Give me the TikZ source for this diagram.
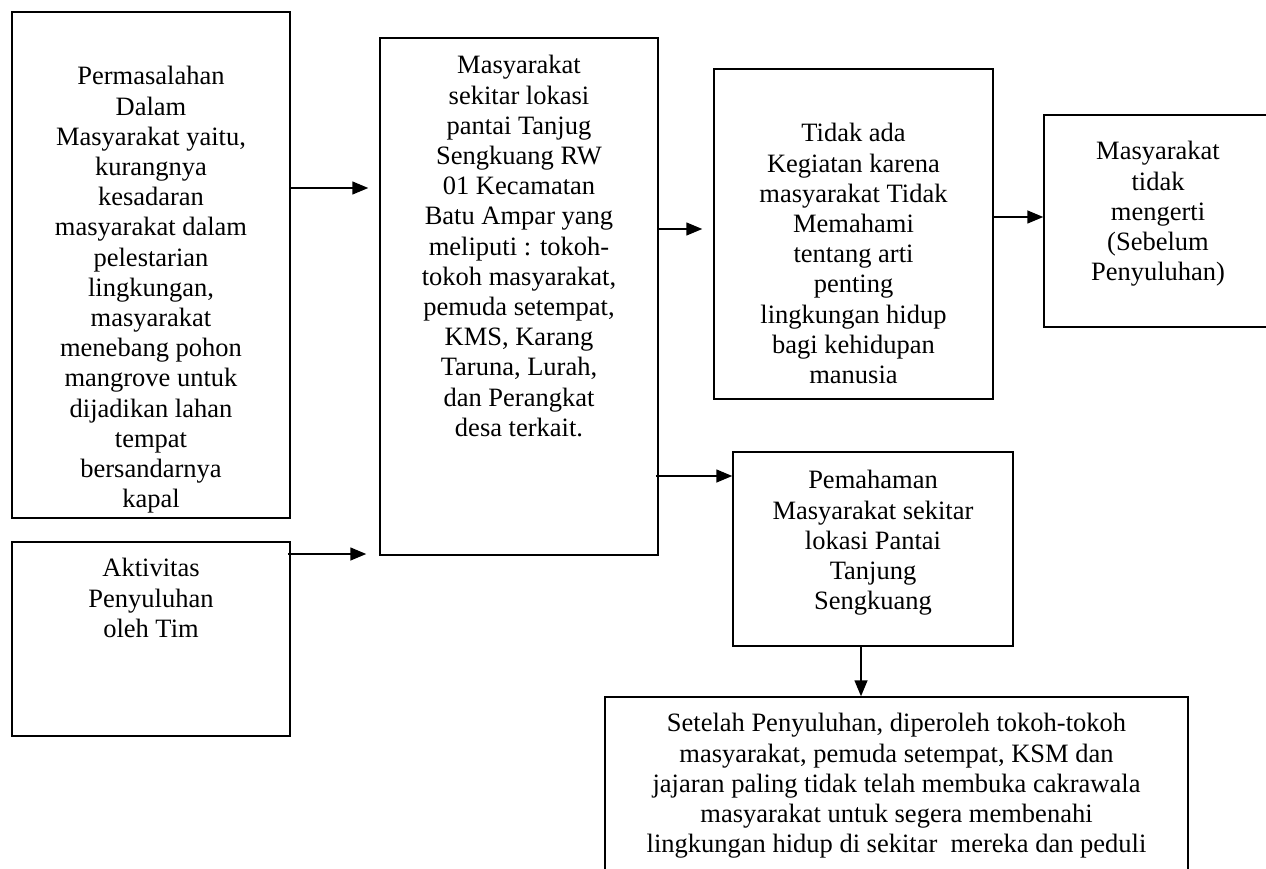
\documentclass[tikz,border=0pt]{standalone}
\usepackage{fontspec}
\setmainfont{Liberation Serif}
\usetikzlibrary{arrows.meta}
\begin{document}
\begin{tikzpicture}[x=1pt,y=-1pt,
  box/.style={draw, line width=1.5pt, inner sep=0pt, fill=none},
  txt/.style={anchor=north, inner sep=0pt, align=center, font=\fontsize{26.5}{30.2}\selectfont},
  arr/.style={draw, line width=1.5pt, -{Triangle[length=16pt,width=13pt]}}]
\useasboundingbox (0,0) rectangle (1266,869);
\clip (0,0) rectangle (1266,869);
% boxes
\node[box, minimum width=278pt, minimum height=506pt] (A) at (151,265) {};
\node[box, minimum width=278pt, minimum height=194pt] (B) at (151,639) {};
\node[box, minimum width=278pt, minimum height=517pt] (C) at (519,296.5) {};
\node[box, minimum width=279pt, minimum height=330pt] (D) at (853.5,234) {};
\node[box, minimum width=228pt, minimum height=212pt] (E) at (1158,221) {};
\node[box, minimum width=280pt, minimum height=194pt] (F) at (873,549) {};
\node[box, minimum width=583pt, minimum height=183pt] (G) at (896.5,788.5) {};
% texts
\node[txt] (At) at ([yshift=-55pt]A.north) {Permasalahan\\Dalam\\Masyarakat yaitu,\\kurangnya\\kesadaran\\masyarakat dalam\\pelestarian\\lingkungan,\\masyarakat\\menebang pohon\\mangrove untuk\\dijadikan lahan\\tempat\\bersandarnya\\kapal};
\node[txt] (Bt) at ([yshift=-17pt]B.north) {Aktivitas\\Penyuluhan\\oleh Tim};
\node[txt] (Ct) at ([yshift=-18pt]C.north) {Masyarakat\\sekitar lokasi\\pantai Tanjug\\Sengkuang RW\\01 Kecamatan\\Batu Ampar yang\\meliputi : tokoh-\\tokoh masyarakat,\\pemuda setempat,\\KMS, Karang\\Taruna, Lurah,\\dan Perangkat\\desa terkait.};
\node[txt] (Dt) at ([yshift=-55pt]D.north) {Tidak ada\\Kegiatan karena\\masyarakat Tidak\\Memahami\\tentang arti\\penting\\lingkungan hidup\\bagi kehidupan\\manusia};
\node[txt] (Et) at ([yshift=-27pt]E.north) {Masyarakat\\tidak\\mengerti\\(Sebelum\\Penyuluhan)};
\node[txt] (Ft) at ([yshift=-19pt]F.north) {Pemahaman\\Masyarakat sekitar\\lokasi Pantai\\Tanjung\\Sengkuang};
\node[txt] (Gt) at ([yshift=-17pt]G.north) {Setelah Penyuluhan, diperoleh tokoh-tokoh\\masyarakat, pemuda setempat, KSM dan\\jajaran paling tidak telah membuka cakrawala\\masyarakat untuk segera membenahi\\lingkungan hidup di sekitar\ \ mereka dan peduli};
% helper coordinates
\coordinate (r188) at (0,188);
\coordinate (r554) at (0,554);
\coordinate (r229) at (0,229);
\coordinate (r217) at (0,217);
\coordinate (r476) at (0,476);
\coordinate (c861) at (861,0);
% connectors
\draw[arr, shorten >=11pt] (A.east |- r188) -- (C.west |- r188);
\draw[arr, shorten <=-3pt, shorten >=13pt] (B.east |- r554) -- (C.west |- r554);
\draw[arr, shorten >=11pt] (C.east |- r229) -- (D.west |- r229);
\draw[arr] (D.east |- r217) -- (E.west |- r217);
\draw[arr, shorten <=-3pt] (C.east |- r476) -- (F.west |- r476);
\draw[arr] (F.south -| c861) -- (G.north -| c861);
\end{tikzpicture}
\end{document}
